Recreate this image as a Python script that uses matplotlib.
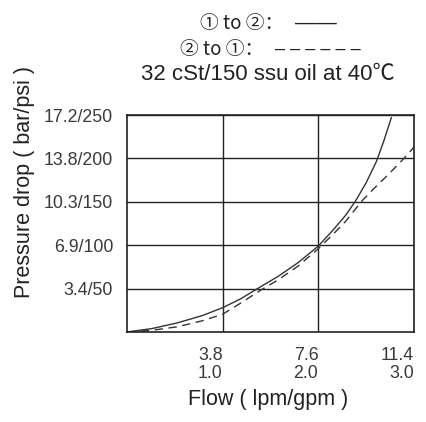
import numpy as np
import matplotlib
matplotlib.use("Agg")
import matplotlib.pyplot as plt

plt.rcParams['font.family'] = ['Liberation Sans', 'Noto Sans CJK SC', 'DejaVu Sans']

# flow in lpm, pressure drop in psi
flow_12 = [0, 1.0, 2.0, 3.0, 3.8, 4.5, 5.3, 6.0, 6.8, 7.6, 8.2, 8.7, 9.1, 9.5, 9.9, 10.2, 10.5]
dp_12 = [0, 4, 10.5, 19, 28, 38, 52, 64, 80, 99, 118, 135, 152, 172, 196, 220, 247]

flow_21 = [0, 1.0, 2.0, 3.0, 3.8, 4.5, 5.3, 6.0, 6.8, 7.6, 8.2, 8.7, 9.3, 9.8, 10.4, 11.0, 11.4]
dp_21 = [0, 2, 6, 13, 20.5, 33, 48, 60, 76, 96, 113, 128, 150, 165, 182, 200, 213]

x_ticks = [3.8, 7.6, 11.4]
x_labels = ['3.8\n1.0', '7.6\n2.0', '11.4\n3.0']
y_ticks = [50, 100, 150, 200, 250]
y_labels = ['3.4/50', '6.9/100', '10.3/150', '13.8/200', '17.2/250']

W, H = 426, 422
fig = plt.figure(figsize=(W / 100, H / 100), dpi=100)
ax = fig.add_axes([127 / W, 1 - 332 / H, 287 / W, 217 / H])

ax.plot(flow_12, dp_12, color='#333333', lw=1.0)
ax.plot(flow_21, dp_21, color='#333333', lw=1.0, ls=(0, (6, 4)))

ax.set_xlim(0, 11.4)
ax.set_ylim(0, 250)
ax.set_xticks(x_ticks)
ax.set_xticklabels(x_labels, ha='right', multialignment='right', linespacing=1.05)
ax.set_yticks(y_ticks)
ax.set_yticklabels(y_labels)
ax.tick_params(length=0, labelsize=12.8, colors='#3a3a3a')
ax.tick_params(axis='x', pad=11)
ax.tick_params(axis='y', pad=10)
ax.grid(True, color='#222222', lw=1.0)
for s in ax.spines.values():
    s.set_color('#222222')
    s.set_linewidth(1.2)

# axis titles
fig.text(268 / W, 1 - 400 / H, 'Flow ( lpm/gpm )', ha='center', va='center',
         fontsize=15.5, color='#222222')
fig.text(25 / W, 1 - 182 / H, 'Pressure drop ( bar/psi )', ha='center', va='center',
         rotation=90, fontsize=15.5, color='#222222')

# header / legend text
cjk = ['Noto Sans CJK SC', 'DejaVu Sans']
fig.text(200 / W, 1 - 24 / H, '① to ②：', ha='left', va='center', fontsize=13.5,
         color='#222222', family=cjk)
fig.text(295 / W, 1 - 23 / H, '——', ha='left', va='center', fontsize=15,
         color='#222222')
fig.text(180 / W, 1 - 50 / H, '② to ①：', ha='left', va='center', fontsize=13.5,
         color='#222222', family=cjk)
fig.text(275 / W, 1 - 49 / H, '– – – – – –', ha='left', va='center', fontsize=13,
         color='#222222')
fig.text(268 / W, 1 - 74 / H, '32 cSt/150 ssu oil at 40℃', ha='center', va='center',
         fontsize=16, color='#222222')

fig.savefig('out.png', dpi=100)
